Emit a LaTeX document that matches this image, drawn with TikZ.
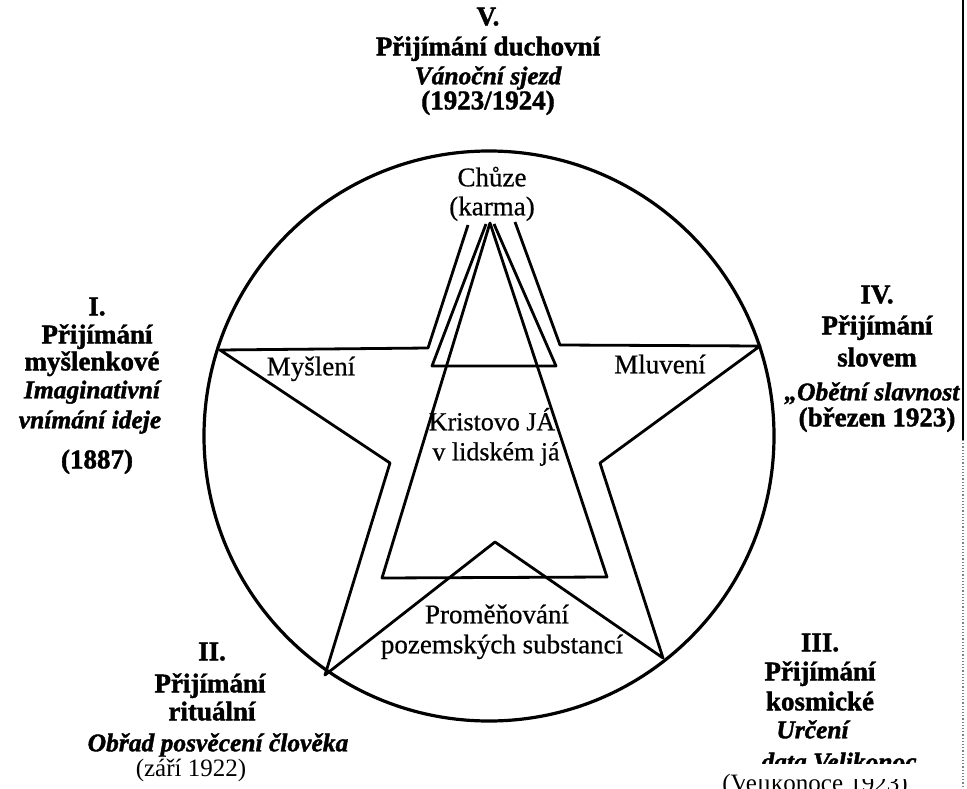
\documentclass[tikz,border=0pt]{standalone}
\usepackage{fontspec}
\setmainfont{Liberation Serif}[BoldFeatures={FakeBold=1.5}, BoldItalicFeatures={FakeBold=1.5}]
\newfontfamily\scanfont{Liberation Serif}[FakeBold=0.6]
\begin{document}
\begin{tikzpicture}[x=1pt, y=-1pt, line width=2.8pt, line join=round,
  lbl/.style={font=\fontsize{27}{30}\selectfont\bfseries, inner sep=0pt, text height=0.66em, text depth=0pt},
  itlbl/.style={font=\fontsize{25.5}{30}\selectfont\bfseries\itshape, inner sep=0pt, text height=0.66em, text depth=0pt},
  inlbl/.style={font=\fontsize{27}{30}\scanfont, inner sep=0pt, text height=0.66em, text depth=0pt},
  datelbl/.style={font=\fontsize{25}{30}\selectfont, inner sep=0pt, text height=0.66em, text depth=0pt}]
\useasboundingbox (0,0) rectangle (967,789);
% circle
\coordinate (O) at (489,436);
\draw[line width=3.2pt] (O) circle (285);
% star points
\coordinate (L) at (220,350);
\coordinate (SL) at (428,348);
\coordinate (TL) at (468,225);
\coordinate (TR) at (515,222);
\coordinate (SR) at (560,345);
\coordinate (R) at (760,346);
\coordinate (RI) at (600,463);
\coordinate (BR) at (663,658);
\coordinate (BI) at (495,542);
\coordinate (BL) at (325,675);
\coordinate (LI) at (390,463);
\draw (TL) -- (SL) -- (L) -- (LI) -- (BL) -- (BI) -- (BR) -- (RI) -- (R) -- (SR) -- (TR);
% inner triangle and band
\coordinate (A) at (490,223);
\coordinate (TBL) at (382,578);
\coordinate (TBR) at (607,577);
\draw (A) -- (TBL) -- (TBR) -- cycle;
\coordinate (BdL) at (486,224);
\coordinate (BdR) at (494,224);
\draw (BdL) -- (432,366) -- (556,366) -- (BdR);
% inner labels
\node[inlbl] (chuze) at (492,183) {Chůze};
\node[inlbl] (karma) at (492,212) {(karma)};
\node[inlbl] (mysl) at (311,372) {Myšlení};
\node[inlbl] (mluv) at (660,370) {Mluvení};
\node[inlbl, font=\fontsize{26}{30}\scanfont] (krist) at (492,427) {Kristovo JÁ};
\node[inlbl, font=\fontsize{26}{30}\scanfont] (lidsk) at (496,457) {v lidském já};
\node[inlbl] (prom) at (497,620) {Proměňování};
\node[inlbl] (pozem) at (502,650) {pozemských substancí};
% V.
\node[lbl] (v) at (488,22) {V.};
\node[lbl] (vprij) at (488,52) {Přijímání duchovní};
\node[itlbl] (vsjezd) at (488,81) {Vánoční sjezd};
\node[lbl] (vrok) at (488,106) {(1923/1924)};
% I.
\node[lbl] (i) at (97,312) {I.};
\node[lbl] (iprij) at (97,340) {Přijímání};
\node[lbl] (imysl) at (92,367) {myšlenkové};
\node[itlbl] (iimag) at (92,395) {Imaginativní};
\node[itlbl] (ivnim) at (90,425) {vnímání ideje};
\node[lbl] (irok) at (97,465) {(1887)};
% IV.
\node[lbl] (iv) at (877,300) {IV.};
\node[lbl] (ivprij) at (877,331) {Přijímání};
\node[lbl] (ivslov) at (877,363) {slovem};
\node[itlbl, anchor=west] (ivobet) at (783,397) {„Obětní slavnost};
\node[lbl] (ivrok) at (877,423) {(březen 1923)};
% II.
\node[lbl] (ii) at (212,657) {II.};
\node[lbl] (iiprij) at (210,689) {Přijímání};
\node[lbl] (iirit) at (212,717) {rituální};
\node[itlbl] (iiobrad) at (218,748) {Obřad posvěcení člověka};
\node[datelbl] (iirok) at (191,773) {(září 1922)};
% III.
\node[lbl] (iii) at (820,648) {III.};
\node[lbl] (iiiprij) at (820,677) {Přijímání};
\node[lbl] (iiikosm) at (820,707) {kosmické};
\node[itlbl, anchor=west] (iiiurc) at (775,735) {Určení};
\node[itlbl, anchor=west] (iiidata) at (760,767) {data Velikonoc};
\node[datelbl] (iiirok) at (815,788) {(Velikonoce 1923)};
% torn strip of the scan
\fill[white] (740,764) rectangle (940,778.5);
% scan edge
\draw[line width=2pt] (963,0) -- (963,440);
\draw[line width=1.2pt, gray, dotted] (963,440) -- (963,789);
\end{tikzpicture}
\end{document}
